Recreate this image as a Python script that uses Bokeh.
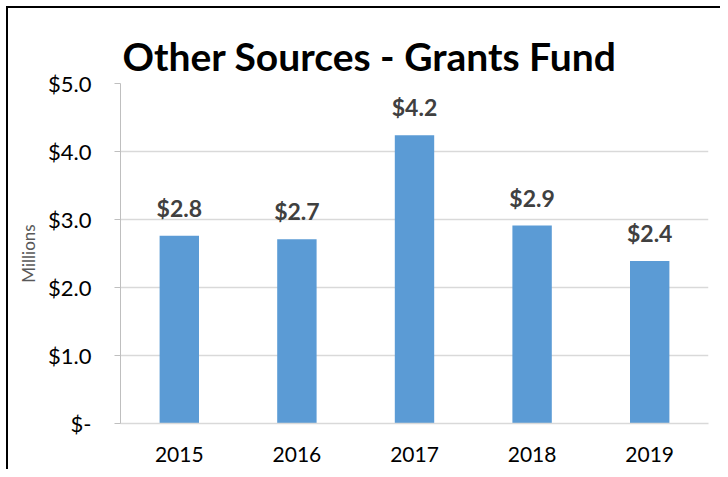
from bokeh.plotting import figure
from bokeh.models import FixedTicker, ColumnDataSource, FactorRange, Range1d
from bokeh.core.properties import value
from bokeh.embed import file_html
from bokeh.resources import INLINE

years = ["2015", "2016", "2017", "2018", "2019"]
grants = [2.76, 2.71, 4.24, 2.91, 2.39]
bar_labels = ["$" + format(v, ".1f") for v in grants]
y_ticks = [0, 1, 2, 3, 4, 5]
y_tick_labels = ["$-", "$1.0", "$2.0", "$3.0", "$4.0", "$5.0"]
y_title = "Millions"

src = ColumnDataSource(dict(year=years, val=grants, lab=bar_labels))

p = figure(width=720, height=469, output_backend="svg", toolbar_location=None,
           x_range=FactorRange(*years, range_padding=0), y_range=Range1d(0, 5.0),
           min_border_left=120, min_border_right=12, min_border_top=83, min_border_bottom=46)
p.background_fill_color = None
p.border_fill_color = None
p.styles = {"background-color": "#ffffff",
            "box-shadow": "inset 6px 6px 0px 0px #ffffff, inset 8px 8px 0px 0px #000000"}

p.vbar(x="year", top="val", width=0.335, source=src, color="#5B9BD5", line_color=None)
p.text(x="year", y="val", text="lab", source=src, text_align="center", text_baseline="bottom",
       y_offset=-14, text_font=value("Lato"), text_font_style="bold", text_font_size="23px",
       text_color="#404040")

p.title.text = "Other Sources - Grants Fund"
p.title.text_font = "Lato"
p.title.text_font_style = "bold"
p.title.text_font_size = "39px"
p.title.text_color = "#000000"
p.title.align = "left"
p.title.offset = 2
p.title.standoff = 10

p.outline_line_color = None
p.xgrid.grid_line_color = None
p.ygrid.grid_line_color = "#D9D9D9"
p.ygrid.grid_line_width = 1.5

p.yaxis.ticker = FixedTicker(ticks=y_ticks)
p.yaxis.major_label_overrides = dict(zip(y_ticks, y_tick_labels))
p.yaxis.minor_tick_line_color = None
p.yaxis.major_tick_in = 0
p.yaxis.major_tick_out = 6
p.yaxis.major_tick_line_color = "#BFBFBF"
p.yaxis.axis_line_color = "#BFBFBF"
p.yaxis.major_label_text_font = "Lato"
p.yaxis.major_label_text_font_size = "22px"
p.yaxis.major_label_text_color = "#000000"
p.yaxis.major_label_standoff = 23
p.yaxis.axis_label = y_title
p.yaxis.axis_label_text_font = "Lato"
p.yaxis.axis_label_text_font_style = "normal"
p.yaxis.axis_label_text_font_size = "17px"
p.yaxis.axis_label_text_color = "#595959"
p.yaxis.axis_label_standoff = 6

p.xaxis.major_tick_line_color = None
p.xaxis.axis_line_color = "#D9D9D9"
p.xaxis.axis_line_width = 1.5
p.xaxis.major_label_text_font = "Lato"
p.xaxis.major_label_text_font_size = "21px"
p.xaxis.major_label_text_color = "#000000"
p.xaxis.major_label_standoff = 17

open("out.html", "w").write(file_html(p, INLINE))
